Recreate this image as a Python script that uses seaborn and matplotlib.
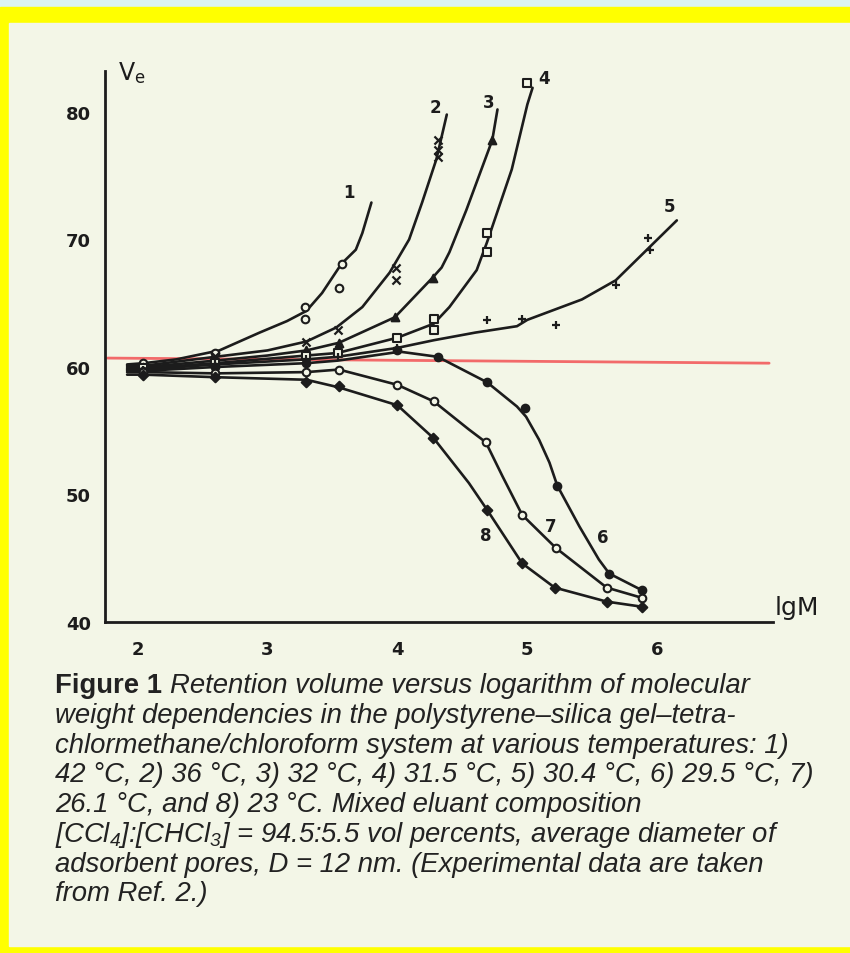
import matplotlib
matplotlib.use("Agg")
import matplotlib.pyplot as plt
from matplotlib.patches import Rectangle
import seaborn as sns
import pandas as pd

# ---------------- data ----------------
CURVE_IDS = ["1", "2", "3", "4", "5", "6", "7", "8"]

LINE_X = {
    "1": [1.92, 2.05, 2.3, 2.63, 2.94, 3.15, 3.3, 3.42, 3.57, 3.68, 3.73, 3.8],
    "2": [1.92, 2.05, 2.6, 3.0, 3.3, 3.53, 3.73, 3.94, 4.09, 4.19, 4.3, 4.38],
    "3": [1.92, 2.05, 2.6, 3.0, 3.3, 3.55, 3.98, 4.27, 4.34, 4.4, 4.53, 4.73, 4.77],
    "4": [1.92, 2.05, 2.6, 3.3, 3.54, 4.0, 4.28, 4.4, 4.61, 4.69, 4.88, 5.0, 5.04],
    "5": [1.92, 2.05, 2.6, 3.3, 3.54, 4.0, 4.28, 4.6, 4.92, 5.0, 5.42, 5.68, 5.94, 6.15],
    "6": [1.92, 2.05, 2.6, 3.3, 3.54, 4.02, 4.31, 4.69, 4.92, 4.99, 5.09, 5.17, 5.23, 5.4, 5.55, 5.63, 5.88],
    "7": [1.92, 2.05, 2.6, 3.3, 3.55, 4.0, 4.28, 4.55, 4.68, 4.81, 4.96, 5.22, 5.61, 5.88],
    "8": [1.92, 2.05, 2.6, 3.3, 3.55, 4.0, 4.28, 4.55, 4.69, 4.96, 5.21, 5.61, 5.88],
}
LINE_V = {
    "1": [60.2, 60.3, 60.6, 61.3, 62.7, 63.6, 64.4, 65.8, 68.1, 69.2, 70.5, 72.9],
    "2": [60.1, 60.1, 60.8, 61.3, 62.0, 63.1, 64.7, 67.4, 70.0, 72.9, 76.3, 79.8],
    "3": [60.0, 60.0, 60.5, 60.9, 61.3, 61.9, 63.9, 67.0, 67.8, 69.0, 72.3, 77.8, 80.2],
    "4": [59.9, 59.9, 60.3, 60.9, 61.1, 62.3, 63.4, 64.7, 67.6, 69.8, 75.5, 80.6, 81.9],
    "5": [59.8, 59.8, 60.2, 60.6, 60.8, 61.5, 62.1, 62.7, 63.2, 63.7, 65.3, 66.8, 69.4, 71.5],
    "6": [59.7, 59.7, 60.0, 60.3, 60.5, 61.2, 60.8, 58.8, 56.9, 56.1, 54.3, 52.5, 50.7, 47.5, 44.9, 43.8, 42.5],
    "7": [59.6, 59.6, 59.5, 59.6, 59.8, 58.6, 57.3, 55.1, 54.1, 51.4, 48.4, 45.8, 42.7, 41.9],
    "8": [59.4, 59.4, 59.2, 59.0, 58.4, 57.0, 54.4, 50.9, 48.8, 44.6, 42.7, 41.6, 41.2],
}

PT_X = {
    "1": [2.04, 2.6, 3.29, 3.29, 3.55, 3.57],
    "2": [2.04, 2.6, 3.3, 3.54, 3.99, 3.99, 4.31, 4.31, 4.31],
    "3": [2.04, 2.6, 3.3, 3.55, 3.98, 4.27, 4.73],
    "4": [2.04, 2.6, 3.3, 3.54, 4.0, 4.28, 4.28, 4.69, 4.69, 5.0],
    "5": [2.04, 2.6, 3.3, 3.54, 4.0, 4.69, 4.96, 5.22, 5.68, 5.93, 5.94],
    "6": [2.04, 2.6, 3.3, 4.0, 4.31, 4.69, 4.98, 5.23, 5.63, 5.88],
    "7": [2.04, 2.6, 3.3, 3.55, 4.0, 4.28, 4.68, 4.96, 5.22, 5.61, 5.88],
    "8": [2.04, 2.6, 3.3, 3.55, 4.0, 4.27, 4.69, 4.96, 5.21, 5.61, 5.88],
}
PT_V = {
    "1": [60.3, 61.1, 63.8, 64.7, 66.2, 68.1],
    "2": [60.1, 60.9, 62.0, 62.9, 66.8, 67.8, 76.5, 77.0, 77.8],
    "3": [60.0, 60.5, 61.3, 61.9, 63.9, 67.0, 77.8],
    "4": [59.9, 60.3, 60.9, 61.1, 62.3, 62.9, 63.8, 69.0, 70.5, 82.3],
    "5": [59.8, 60.2, 60.6, 60.8, 61.5, 63.7, 63.8, 63.3, 66.4, 70.1, 69.2],
    "6": [59.7, 60.0, 60.3, 61.3, 60.8, 58.8, 56.8, 50.7, 43.8, 42.5],
    "7": [59.6, 59.5, 59.6, 59.8, 58.6, 57.3, 54.1, 48.4, 45.8, 42.7, 41.9],
    "8": [59.4, 59.2, 58.8, 58.5, 57.0, 54.4, 48.8, 44.6, 42.7, 41.6, 41.2],
}

LABEL_POS = {  # curve number labels (lgM, V)
    "1": (3.63, 73.7), "2": (4.29, 80.4), "3": (4.7, 80.8), "4": (5.13, 82.7),
    "5": (6.09, 72.6), "6": (5.58, 46.7), "7": (5.18, 47.5), "8": (4.68, 46.8),
}

RED_X = [1.77, 6.86]
RED_V = [60.7, 60.3]

Y_TICKS = [40, 50, 60, 70, 80]
X_TICKS = [2, 3, 4, 5, 6]

CAPTION_BOLD = "Figure 1"
CAPTION_LINES = [
    "Retention volume versus logarithm of molecular",
    "weight dependencies in the polystyrene\u2013silica gel\u2013tetra-",
    "chlormethane/chloroform system at various temperatures: 1)",
    "42 \u00b0C, 2) 36 \u00b0C, 3) 32 \u00b0C, 4) 31.5 \u00b0C, 5) 30.4 \u00b0C, 6) 29.5 \u00b0C, 7)",
    "26.1 \u00b0C, and 8) 23 \u00b0C. Mixed eluant composition",
    "[CCl$_4$]:[CHCl$_3$] = 94.5:5.5 vol percents, average diameter of",
    "adsorbent pores, D = 12 nm. (Experimental data are taken",
    "from Ref. 2.)",
]

MARKERS = {"1": "o", "2": "x", "3": "^", "4": "s", "5": "+", "6": "o", "7": "o", "8": "D"}
FILLED = {"1": False, "2": True, "3": True, "4": False, "5": True, "6": True, "7": False, "8": True}

# ---------------- styling ----------------
sns.set_theme(style="white")
plt.rcParams["font.family"] = ["Liberation Sans", "DejaVu Sans"]
plt.rcParams["mathtext.fontset"] = "custom"
plt.rcParams["mathtext.rm"] = "Liberation Sans:italic"
plt.rcParams["mathtext.it"] = "Liberation Sans:italic"

W, H = 850, 954
fig = plt.figure(figsize=(W / 100, H / 100), dpi=100)
fig.patch.set_facecolor("#dcf4f1")
fig.patches.append(Rectangle((0, 0), 1, (H - 8) / H, transform=fig.transFigure,
                             color="#ffff00", zorder=-3))
fig.patches.append(Rectangle((9 / W, 7 / H), 1, (H - 24 - 7) / H, transform=fig.transFigure,
                             color="#f3f6e7", zorder=-2))

ink = "#1c1c1c"
ax = fig.add_axes([105 / W, 1 - 623 / H, (773 - 105) / W, (623 - 72) / H])
ax.set_facecolor("none")

sns.lineplot(x=RED_X, y=RED_V, ax=ax, color="#f26a6a", lw=2.0, sort=False, zorder=1)

for cid in CURVE_IDS:
    sns.lineplot(x=LINE_X[cid], y=LINE_V[cid], ax=ax, color=ink, lw=1.9,
                 sort=False, zorder=3)
    mk = MARKERS[cid]
    if mk in ("x", "+"):
        sns.scatterplot(x=PT_X[cid], y=PT_V[cid], ax=ax, marker=mk, s=34,
                        color=ink, linewidth=1.6, zorder=4)
    else:
        sns.scatterplot(x=PT_X[cid], y=PT_V[cid], ax=ax, marker=mk,
                        s=24 if mk == "D" else 30,
                        facecolor=ink if FILLED[cid] else "#f3f6e7",
                        edgecolor=ink, linewidth=1.5, zorder=4)
    lx, lv = LABEL_POS[cid]
    ax.text(lx, lv, cid, fontsize=12, fontweight="bold", color=ink,
            family=["DejaVu Sans"], ha="center", va="center")

ax.set_xlim(1.75, 6.89)
ax.set_ylim(40, 40 + (623 - 72) / 12.75)
ax.set_xticks(X_TICKS)
ax.set_xticklabels([str(t) for t in X_TICKS])
ax.set_yticks(Y_TICKS)
ax.set_yticklabels([str(t) for t in Y_TICKS])
for s in ("top", "right"):
    ax.spines[s].set_visible(False)
for s in ("left", "bottom"):
    ax.spines[s].set_color(ink)
    ax.spines[s].set_linewidth(2.0)
ax.tick_params(axis="both", direction="in", length=6, width=1.8, color=ink,
               labelcolor=ink, labelsize=13)
ax.tick_params(axis="y", pad=10)
ax.tick_params(axis="x", pad=13)
for lab in ax.get_xticklabels() + ax.get_yticklabels():
    lab.set_fontweight("bold")
    lab.set_family(["DejaVu Sans"])
ax.set_xlabel("")
ax.set_ylabel("")

# axis titles (hand written)
fig.text(118 / W, 1 - 80 / H, "V$_{\\mathregular{e}}$", fontsize=17, color=ink,
         family=["DejaVu Sans"], ha="left", va="baseline")
fig.text(775 / W, 1 - 615 / H, "lgM", fontsize=18, color=ink,
         family=["DejaVu Sans"], ha="left", va="baseline")

# caption
cap_size = 19.8
cap_color = "#222222"
baselines = [693, 723, 753, 782, 812, 842, 872, 901]
x0 = 55 / W
tb = fig.text(x0, 1 - baselines[0] / H, CAPTION_BOLD + " ", fontsize=cap_size,
              fontweight="bold", color=cap_color, ha="left", va="baseline")
fig.canvas.draw()
bb = tb.get_window_extent(renderer=fig.canvas.get_renderer())
x1 = bb.x1 / W
for i, line in enumerate(CAPTION_LINES):
    fig.text(x1 if i == 0 else x0, 1 - baselines[i] / H, line, fontsize=cap_size,
             style="italic", color=cap_color, ha="left", va="baseline")

fig.savefig("out.png", dpi=100, facecolor=fig.get_facecolor())
